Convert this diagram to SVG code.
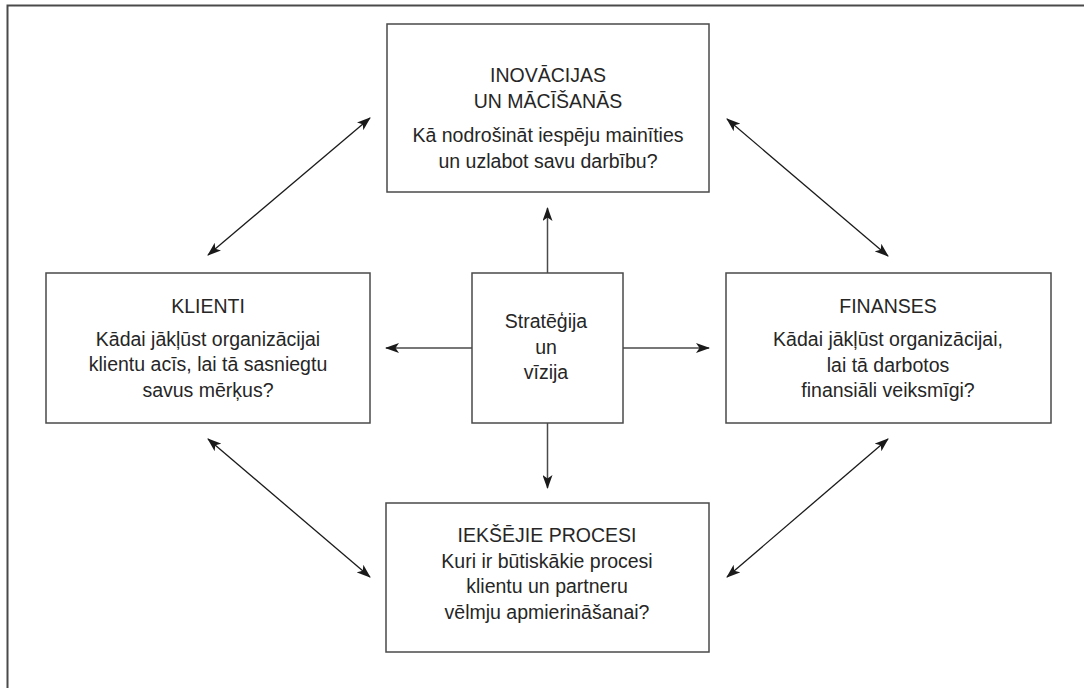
<svg xmlns="http://www.w3.org/2000/svg" width="1084" height="688" viewBox="0 0 1084 688">
  <style>
    .box { fill: #ffffff; stroke: #4a4a4a; stroke-width: 1.5; }
    .frame { fill: none; stroke: #4a4a4a; stroke-width: 2; }
    .t { font-family: "Liberation Sans", Arial, sans-serif; font-size: 19.5px; fill: #262626; text-anchor: middle; }
    .c { stroke: #1a1a1a; stroke-width: 1.3; fill: none; }
    .cs { stroke: #4a4a4a; stroke-width: 1.5; fill: none; }
  </style>
  <defs>
    <marker id="ah" viewBox="0 0 14 10" refX="13" refY="5" markerWidth="14" markerHeight="10" markerUnits="userSpaceOnUse" orient="auto-start-reverse">
      <path d="M0,0 L14,5 L0,10 L3.5,5 Z" fill="#1a1a1a"/>
    </marker>
  </defs>
  <rect width="1084" height="688" fill="#ffffff"/>
  <path class="frame" d="M7.5,688 L7.5,5.5 L1084,5.5"/>

  <g id="connectors">
    <line class="cs" x1="547.5" y1="273" x2="547.5" y2="208" marker-end="url(#ah)"/>
    <line class="cs" x1="547.5" y1="423" x2="547.5" y2="488" marker-end="url(#ah)"/>
    <line class="cs" x1="472" y1="348" x2="386" y2="348" marker-end="url(#ah)"/>
    <line class="cs" x1="623" y1="348" x2="709" y2="348" marker-end="url(#ah)"/>
    <line class="c" x1="208" y1="255" x2="370" y2="118" marker-start="url(#ah)" marker-end="url(#ah)"/>
    <line class="c" x1="727" y1="119" x2="888" y2="256" marker-start="url(#ah)" marker-end="url(#ah)"/>
    <line class="c" x1="208" y1="439" x2="370" y2="577" marker-start="url(#ah)" marker-end="url(#ah)"/>
    <line class="c" x1="888" y1="439" x2="727" y2="577" marker-start="url(#ah)" marker-end="url(#ah)"/>
  </g>

  <g id="node-inovacijas">
    <rect class="box" x="387" y="24" width="322" height="168"/>
    <text class="t" x="548" y="82">INOVĀCIJAS</text>
    <text class="t" x="548" y="108">UN MĀCĪŠANĀS</text>
    <text class="t" x="548" y="142">Kā nodrošināt iespēju mainīties</text>
    <text class="t" x="548" y="168">un uzlabot savu darbību?</text>
  </g>

  <g id="node-klienti">
    <rect class="box" x="46" y="273" width="324" height="150"/>
    <text class="t" x="208" y="313">KLIENTI</text>
    <text class="t" x="208" y="346">Kādai jākļūst organizācijai</text>
    <text class="t" x="208" y="371">klientu acīs, lai tā sasniegtu</text>
    <text class="t" x="208" y="397">savus mērķus?</text>
  </g>

  <g id="node-strategija">
    <rect class="box" x="472" y="273" width="151" height="150"/>
    <text class="t" x="546" y="328">Stratēģija</text>
    <text class="t" x="546" y="354">un</text>
    <text class="t" x="546" y="379">vīzija</text>
  </g>

  <g id="node-finanses">
    <rect class="box" x="726" y="273" width="325" height="150"/>
    <text class="t" x="888" y="313">FINANSES</text>
    <text class="t" x="888" y="346">Kādai jākļūst organizācijai,</text>
    <text class="t" x="888" y="372">lai tā darbotos</text>
    <text class="t" x="888" y="397">finansiāli veiksmīgi?</text>
  </g>

  <g id="node-procesi">
    <rect class="box" x="386" y="503" width="323" height="149"/>
    <text class="t" x="547" y="542">IEKŠĒJIE PROCESI</text>
    <text class="t" x="547" y="568">Kuri ir būtiskākie procesi</text>
    <text class="t" x="547" y="593">klientu un partneru</text>
    <text class="t" x="547" y="619">vēlmju apmierināšanai?</text>
  </g>
</svg>
